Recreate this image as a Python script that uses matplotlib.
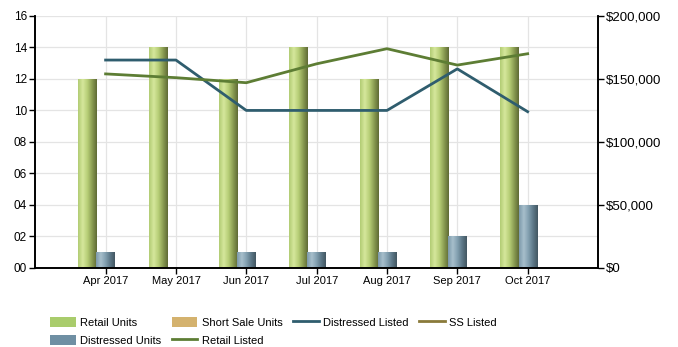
import matplotlib.pyplot as plt
import numpy as np
from matplotlib.colors import LinearSegmentedColormap
from matplotlib.patches import Patch
from matplotlib.lines import Line2D

plt.rcParams['font.family'] = ['Liberation Sans', 'DejaVu Sans']

months = ['Apr 2017', 'May 2017', 'Jun 2017', 'Jul 2017', 'Aug 2017', 'Sep 2017', 'Oct 2017']
retail_units = [12, 14, 12, 14, 12, 14, 14]
distressed_units = [1, 0, 1, 1, 1, 2, 4]
short_sale_units = [0, 0, 0, 0, 0, 0, 0]
distressed_listed = [165000, 165000, 125000, 125000, 125000, 158000, 124000]
retail_listed = [154000, 151000, 147000, 162000, 174000, 161000, 170000]

x = np.arange(len(months))
w = 0.26

fig = plt.figure(figsize=(6.78, 3.47), dpi=100)
ax = fig.add_axes([0.052, 0.228, 0.83, 0.726])
ax2 = ax.twinx()

retail_cmap = LinearSegmentedColormap.from_list(
    'retail', ['#b2cc74', '#d6e79c', '#b7ce77', '#8a9c52', '#5f6b35'])
dist_cmap = LinearSegmentedColormap.from_list(
    'dist', ['#7d9aab', '#a7bfcc', '#83a0b0', '#5d7888', '#435762'])


def shade(bars, cmap):
    # fill each bar with a left-to-right gradient
    grad = np.linspace(0, 1, 64).reshape(1, -1)
    for b in bars:
        h = b.get_height()
        if h <= 0:
            continue
        x0 = b.get_x()
        im = ax.imshow(grad, cmap=cmap, aspect='auto',
                       extent=(x0, x0 + b.get_width(), 0, h), zorder=2)
        im.set_clip_path(b)
        b.set_facecolor('none')


rb = ax.bar(x - w, retail_units, w, zorder=2, linewidth=0)
db = ax.bar(x, distressed_units, w, zorder=2, linewidth=0)
ax.bar(x + w, short_sale_units, w, color='#d4b26e', zorder=2, linewidth=0)
shade(rb, retail_cmap)
shade(db, dist_cmap)

ax.set_xlim(-1, 7)
ax.set_ylim(0, 16)
ax.set_yticks(range(0, 17, 2))
ax.set_yticklabels(['%02d' % v for v in range(0, 17, 2)])
ax.set_xticks(x)
ax.set_xticklabels(months)
ax.grid(True, color='#e4e4e4', linewidth=0.9, zorder=0)
ax.set_axisbelow(True)

ax2.plot(x, distressed_listed, color='#2f5d6e', linewidth=2, zorder=3)
ax2.plot(x, retail_listed, color='#5d7d34', linewidth=2, zorder=3)
ax2.set_ylim(0, 200000)
ax2.set_yticks(range(0, 200001, 50000))
ax2.set_yticklabels(['$0', '$50,000', '$100,000', '$150,000', '$200,000'])

for a in (ax, ax2):
    a.spines['top'].set_visible(False)
    for s in ('left', 'right', 'bottom'):
        a.spines[s].set_linewidth(1.2)
    a.tick_params(length=4, width=1, pad=2, colors='black')
ax.tick_params(axis='x', labelsize=8)
ax.tick_params(axis='y', labelsize=8.5)
ax2.tick_params(axis='y', labelsize=9.5)

handles = [
    Patch(facecolor='#a9cc6c', label='Retail Units'),
    Patch(facecolor='#6f8fa3', label='Distressed Units'),
    Patch(facecolor='#d4b26e', label='Short Sale Units'),
    Line2D([], [], color='#5d7d34', linewidth=2, label='Retail Listed'),
    Line2D([], [], color='#2f5d6e', linewidth=2, label='Distressed Listed'),
    Line2D([], [], color='#8a7a3a', linewidth=2, label='SS Listed'),
]
fig.legend(handles=handles, ncol=4, loc='upper left', bbox_to_anchor=(0.074, 0.086),
           frameon=False, fontsize=8, handlelength=2.3, handleheight=0.95,
           handletextpad=0.4, columnspacing=0.95, labelspacing=0.65,
           borderaxespad=0, borderpad=0)

fig.savefig('out.png', dpi=100)
